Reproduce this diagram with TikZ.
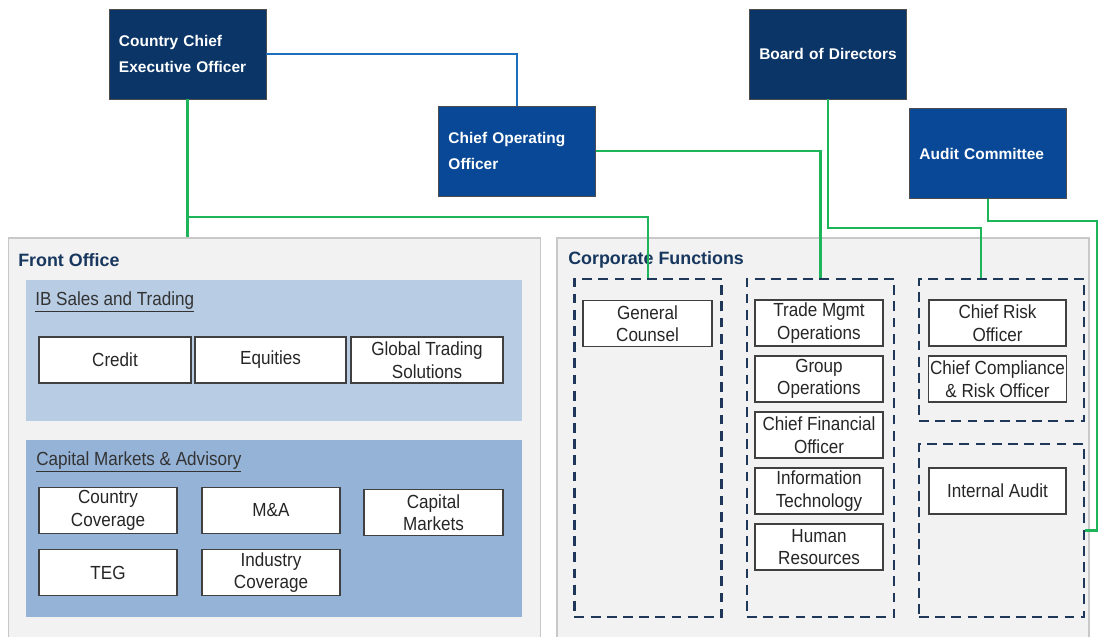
\documentclass[tikz,border=0pt]{standalone}
\usepackage{fontspec}
\setmainfont{Liberation Sans}
\newfontfamily\narrowfont[FakeStretch=0.9]{Liberation Sans}
\usetikzlibrary{positioning, shapes}

\definecolor{navydark}{RGB}{10,53,102}
\definecolor{navymid}{RGB}{8,72,150}
\definecolor{panelgrey}{RGB}{242,242,242}
\definecolor{panelline}{RGB}{200,200,200}
\definecolor{ibblue}{RGB}{184,204,228}
\definecolor{cmablue}{RGB}{149,179,215}
\definecolor{linkgreen}{RGB}{30,180,90}
\definecolor{linkblue}{RGB}{30,110,190}
\definecolor{titlenavy}{RGB}{23,55,94}
\definecolor{dashnavy}{RGB}{31,56,90}

\begin{document}
\begin{tikzpicture}[x=0.025cm, y=-0.025cm]

		\tikzstyle{head}=[rectangle, draw=black!70, thin, text=white, font=\bfseries\fontsize{11}{18.5}\selectfont, minimum width=3.925cm, minimum height=2.25cm, text width=3.425cm, inner xsep=0.25cm, align=left]
		\tikzstyle{panel}=[rectangle, draw=panelline, line width=1.2pt, fill=panelgrey, minimum width=13.3cm, minimum height=10.55cm]
		\tikzstyle{desk}=[rectangle, minimum width=12.4cm]
		\tikzstyle{group}=[rectangle, draw=dashnavy, line width=2pt, dash pattern=on 7pt off 4.5pt, minimum width=3.675cm]
		\tikzstyle{unit}=[rectangle, draw=black!75, line width=0.9pt, fill=white, text=black!85, font=\narrowfont\fontsize{13.5}{16}\selectfont, align=center, minimum height=1.15cm, inner sep=1pt]
		\tikzstyle{title}=[anchor=west, inner sep=0pt, text=titlenavy, font=\bfseries\fontsize{12.7}{15}\selectfont]
		\tikzstyle{subtitle}=[anchor=west, inner sep=0pt, text=black!80, font=\narrowfont\fontsize{13.5}{16}\selectfont]
		\tikzstyle{link}=[draw=linkgreen, line width=1.5pt]

		\useasboundingbox (0,0) rectangle (1098,637);
		\clip (0,0) rectangle (1098,637);

		% top of the chart
		\node[head, fill=navydark] (ceo) at (187.5,54) {Country Chief\\Executive Officer};
		\node[head, fill=navymid] (coo) at (517,151) {Chief Operating\\Officer};
		\node[head, fill=navydark, align=center, text width=3.725cm, inner xsep=0.1cm] (board) at (828,54) {Board of Directors};
		\node[head, fill=navymid] (audit) at (988,153.5) {Audit Committee};

		% the two big areas
		\node[panel] (fo) at (274.5,449) {};
		\node[panel] (cf) at (823,449) {};
		\node[title] (fot) at (18,260) {Front Office};
		\node[title] (cft) at (568,260) {Corporate Functions};

		% front office
		\node[desk, fill=ibblue, minimum height=3.525cm] (ib) at (274,350.5) {};
		\node[desk, fill=cmablue, minimum height=4.425cm] (cma) at (274,528.5) {};
		\node[subtitle] (ibt) at (35,302) {\underline{IB Sales and Trading}};
		\node[subtitle] (cmat) at (36,462) {\underline{Capital Markets \& Advisory}};

		\node[unit, minimum width=3.8cm] (credit) at (115,360) {Credit};
		\node[unit, minimum width=3.775cm] (equities) at (270.5,360) {Equities};
		\node[unit, minimum width=3.8cm] (gts) at (427,360) {Global Trading\\Solutions};

		\node[unit, minimum width=3.45cm] (ccov) at (108,510.5) {Country\\Coverage};
		\node[unit, minimum width=3.45cm] (ma) at (271,510.5) {M\&A};
		\node[unit, minimum width=3.475cm] (capm) at (433.5,512.5) {Capital\\Markets};
		\node[unit, minimum width=3.45cm] (teg) at (108,572.5) {TEG};
		\node[unit, minimum width=3.45cm] (icov) at (271,572.5) {Industry\\Coverage};

		% corporate functions
		\node[group, minimum height=8.45cm] (grp1) at (648,448) {};
		\node[group, minimum height=8.45cm] (grp2) at (820.5,448) {};
		\node[group, minimum width=4.125cm, minimum height=3.55cm] (grp3) at (1001.5,350) {};
		\node[group, minimum width=4.125cm, minimum height=4.325cm] (grp4) at (1001.5,530.5) {};

		\node[unit, minimum width=3.225cm] (gc) at (647.5,323.5) {General\\Counsel};

		\node[unit, minimum width=3.2cm] (tmo) at (819,323) {Trade Mgmt\\Operations};
		\node[unit, minimum width=3.2cm] (gop) at (819,379) {Group\\Operations};
		\node[unit, minimum width=3.2cm] (cfo) at (819,435) {Chief Financial\\Officer};
		\node[unit, minimum width=3.2cm] (it) at (819,491) {Information\\Technology};
		\node[unit, minimum width=3.2cm] (hr) at (819,547) {Human\\Resources};

		\node[unit, minimum width=3.425cm] (cro) at (997.5,323) {Chief Risk\\Officer};
		\node[unit, minimum width=3.425cm] (ccro) at (997.5,379) {Chief Compliance\\\& Risk Officer};
		\node[unit, minimum width=3.425cm] (ia) at (997.5,491) {Internal Audit};

		% reporting lines
		\coordinate (cebus) at (0,217);
		\coordinate (bdturn) at (981,228);
		\coordinate (acturn) at (1097,221);

		\draw[linkblue, line width=1.5pt] (ceo.east) -| (coo.north);
		\draw[link] (ceo.south) -- (ceo.south |- fo.north);
		\draw[link] (ceo.south |- cebus) -| (grp1.north);
		\draw[link] (coo.east) -| (grp2.north);
		\draw[link] (board.south) |- (bdturn) -- (bdturn |- grp3.north);
		\draw[link] (audit.south) |- (acturn) |- (grp4.east);

\end{tikzpicture}
\end{document}
